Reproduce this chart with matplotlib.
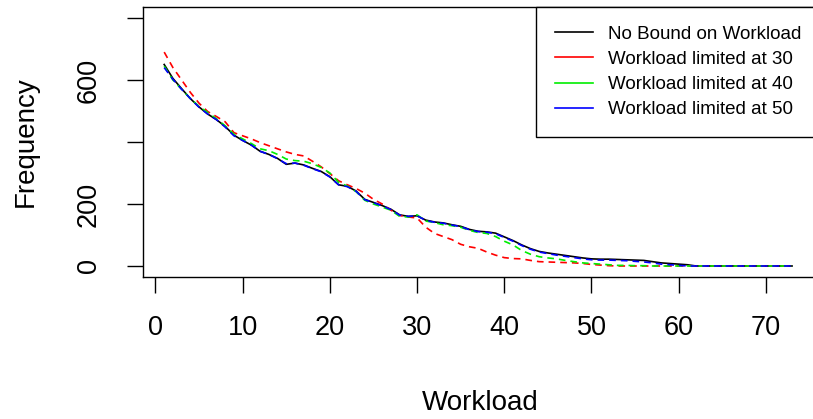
import numpy as np
import matplotlib.pyplot as plt

plt.rcParams['font.family'] = ['Liberation Sans', 'DejaVu Sans']

workload = list(range(1, 74))

no_bound = [650, 605, 572, 540, 513, 490, 472, 450, 422, 405,
            390, 370, 360, 347, 328, 332, 326, 315, 305, 288,
            262, 257, 242, 215, 205, 195, 183, 165, 160, 162,
            148, 142, 139, 133, 128, 118, 112, 110, 106, 94,
            82, 68, 56, 47, 42, 38, 34, 30, 26, 23,
            22, 22, 21, 20, 19, 18, 14, 10, 8, 6,
            4, 0, 0, 0, 0, 0, 0, 0, 0, 0,
            0, 0, 0]

limit_30 = [690, 640, 600, 560, 525, 498, 482, 465, 430, 420,
            410, 398, 388, 378, 368, 360, 355, 338, 320, 298,
            275, 262, 250, 235, 215, 200, 180, 163, 158, 155,
            125, 105, 95, 85, 70, 62, 57, 45, 35, 27,
            24, 23, 18, 14, 13, 12, 11, 10, 8, 5,
            3, 1, 0, 0, 0, 0, 0, 0, 0, 0,
            0, 0, 0, 0, 0, 0, 0, 0, 0, 0,
            0, 0, 0]

limit_40 = [645, 600, 570, 540, 515, 495, 475, 452, 425, 410,
            395, 378, 372, 360, 345, 340, 338, 330, 318, 300,
            270, 258, 240, 212, 200, 190, 180, 160, 158, 165,
            145, 140, 133, 130, 125, 115, 108, 105, 95, 80,
            68, 50, 38, 30, 26, 23, 18, 14, 10, 8,
            6, 4, 2, 2, 1, 1, 0, 0, 0, 0,
            0, 0, 0, 0, 0, 0, 0, 0, 0, 0,
            0, 0, 0]

limit_50 = [640, 602, 570, 540, 512, 490, 472, 448, 420, 405,
            390, 370, 360, 346, 330, 332, 325, 314, 304, 287,
            262, 256, 241, 214, 204, 194, 182, 164, 160, 162,
            147, 141, 138, 132, 127, 117, 111, 109, 104, 92,
            80, 66, 54, 45, 40, 35, 31, 27, 23, 20,
            19, 19, 18, 17, 15, 13, 10, 6, 4, 2,
            0, 0, 0, 0, 0, 0, 0, 0, 0, 0,
            0, 0, 0]

labels = ['No Bound on Workload', 'Workload limited at 30',
          'Workload limited at 40', 'Workload limited at 50']
colors = ['black', 'red', '#00ee00', 'blue']

fig = plt.figure(figsize=(8.13, 4.19), dpi=100)
ax = fig.add_axes([0.1759, 0.3389, 0.8305, 0.6444])

ax.plot(workload, no_bound, color=colors[0], lw=1.2)
ax.plot(workload, limit_30, color=colors[1], lw=1.2, dashes=(4, 3))
ax.plot(workload, limit_40, color=colors[2], lw=1.2, dashes=(4, 3))
ax.plot(workload, limit_50, color=colors[3], lw=1.2, dashes=(4, 3))

ax.set_xlim(-1.43, 76)
ax.set_ylim(-35.5, 835.5)
ax.set_xticks(range(0, 80, 10))
ax.set_yticks([0, 200, 400, 600, 800])
ax.set_yticklabels(['0', '200', '', '600', ''], rotation=90, va='center')
ax.tick_params(axis='both', length=11.5, width=1, labelsize=19.5, direction='out')
ax.tick_params(axis='x', pad=16)
ax.tick_params(axis='y', pad=18)
for s in ax.spines.values():
    s.set_linewidth(1)

ax.set_xlabel('Workload', fontsize=20, labelpad=35)
ax.set_ylabel('Frequency', fontsize=20, labelpad=27)

# legend box runs past the right edge of the picture, as in the original
handles = [plt.Line2D([], [], color=c, lw=1.2) for c in colors]
leg = ax.legend(handles, labels, loc='upper left', bbox_to_anchor=(0.5822, 0.0, 0.45, 1.0),
                mode='expand', borderaxespad=0, fontsize=13.5, frameon=True, fancybox=False,
                edgecolor='black', framealpha=1, borderpad=1.0, labelspacing=0.43,
                handlelength=2.05, handletextpad=0.8)
leg.get_frame().set_linewidth(1)

fig.savefig('out.png', dpi=100)
